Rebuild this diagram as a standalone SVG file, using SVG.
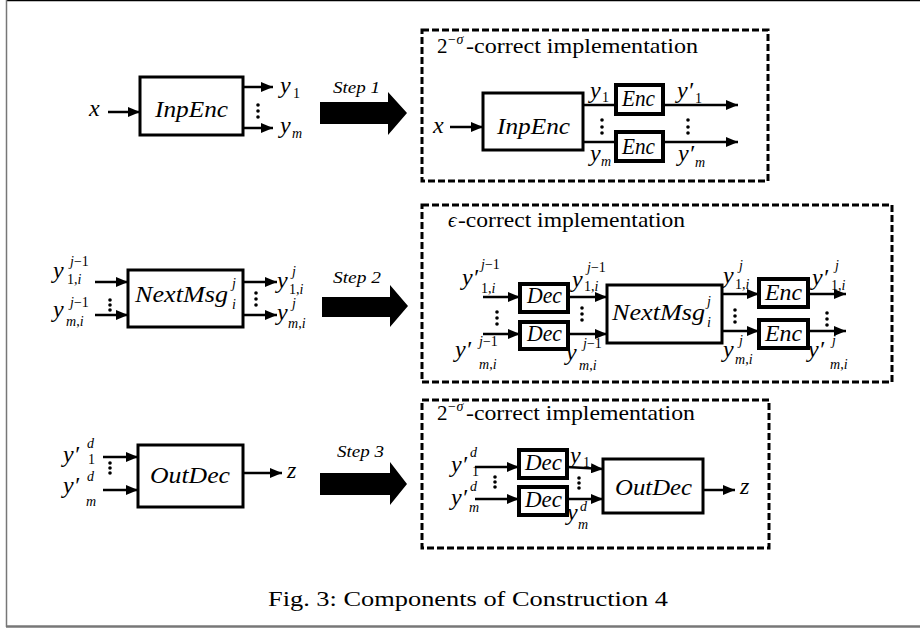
<svg xmlns="http://www.w3.org/2000/svg" width="920" height="629" viewBox="0 0 920 629">
<style>
.box{fill:#fff;stroke:#000;stroke-width:3}
.sbox{fill:#fff;stroke:#000;stroke-width:4}
.dash{fill:none;stroke:#000;stroke-width:3;stroke-dasharray:7 3}
.c{stroke:#000;stroke-width:2.5;fill:none;marker-end:url(#ah)}
text{font-family:"Liberation Serif","DejaVu Serif","Times New Roman",serif}
.v{font-style:italic;font-size:24px}
.sc{font-style:italic;font-size:14px}
.n{font-style:normal}
.ttl{font-size:21px}
.tsup{font-style:italic;font-size:14px}
.st{font-style:italic;font-size:16px}
.cap{font-size:22px}
.dot{fill:#000}
</style>
<defs>
<marker id="ah" markerUnits="userSpaceOnUse" markerWidth="12" markerHeight="10" refX="12" refY="5" orient="auto"><path d="M0,0 L12,5 L0,10 z" fill="#000"/></marker>
</defs>
<rect width="920" height="629" fill="#fff"/>
<g id="frame">
<line x1="6" y1="0.5" x2="920" y2="0.5" stroke="#000" stroke-width="1.5"/>
<line x1="6.5" y1="0" x2="6.5" y2="627" stroke="#777" stroke-width="1.5"/>
<line x1="6" y1="626.5" x2="920" y2="626.5" stroke="#777" stroke-width="2.5"/>
</g>

<g id="region1"><rect class="dash" x="422" y="30" width="346" height="151"/>
<text class="ttl" x="437" y="53">2</text><text class="tsup" x="447" y="44">−σ</text><text class="ttl" x="466" y="53" textLength="232" lengthAdjust="spacingAndGlyphs">-correct implementation</text></g>
<g id="region2"><rect class="dash" x="422" y="205" width="470" height="177"/>
<text class="ttl" x="448" y="227" font-style="italic">ϵ</text><text class="ttl" x="458" y="227" textLength="227" lengthAdjust="spacingAndGlyphs">-correct implementation</text></g>
<g id="region3"><rect class="dash" x="422" y="400" width="347" height="148"/>
<text class="ttl" x="437" y="420">2</text><text class="tsup" x="447" y="411">−σ</text><text class="ttl" x="466" y="420" textLength="229" lengthAdjust="spacingAndGlyphs">-correct implementation</text></g>

<g id="connectors">
<line class="c" x1="108" y1="112" x2="140" y2="112"/>
<line class="c" x1="243" y1="87" x2="273" y2="87"/>
<line class="c" x1="243" y1="128" x2="273" y2="128"/>
<line class="c" x1="450" y1="127" x2="483" y2="127"/>
<line stroke="#000" stroke-width="2.5" x1="583" y1="105" x2="616" y2="105"/>
<line stroke="#000" stroke-width="2.5" x1="583" y1="142" x2="616" y2="142"/>
<line class="c" x1="663" y1="105" x2="738" y2="105"/>
<line class="c" x1="663" y1="142" x2="738" y2="142"/>
<line class="c" x1="95" y1="282" x2="128" y2="282"/>
<line class="c" x1="95" y1="315" x2="128" y2="315"/>
<line class="c" x1="243" y1="282" x2="277" y2="282"/>
<line class="c" x1="243" y1="315" x2="277" y2="315"/>
<line class="c" x1="483" y1="297" x2="520" y2="297"/>
<line class="c" x1="483" y1="334" x2="520" y2="334"/>
<line class="c" x1="568" y1="297" x2="607" y2="297"/>
<line class="c" x1="568" y1="334" x2="607" y2="334"/>
<line class="c" x1="722" y1="294" x2="759" y2="294"/>
<line class="c" x1="722" y1="331" x2="759" y2="331"/>
<line class="c" x1="808" y1="294" x2="846" y2="294"/>
<line class="c" x1="808" y1="331" x2="846" y2="331"/>
<line class="c" x1="103" y1="457" x2="138" y2="457"/>
<line class="c" x1="103" y1="490" x2="138" y2="490"/>
<line class="c" x1="243" y1="473" x2="282" y2="473"/>
<line class="c" x1="475" y1="467" x2="519" y2="467"/>
<line class="c" x1="475" y1="499" x2="519" y2="499"/>
<line class="c" x1="567" y1="467" x2="603" y2="469"/>
<line class="c" x1="567" y1="499" x2="603" y2="499"/>
<line class="c" x1="703" y1="490" x2="735" y2="490"/>
</g>

<g id="n-inpenc">
<rect class="box" x="140" y="77" width="103" height="58"/>
<text class="v" x="155" y="117" textLength="73" lengthAdjust="spacingAndGlyphs">InpEnc</text>
</g>
<g id="lbl-r1-left">
<text class="v" x="89" y="116">x</text>
<text class="v" x="280" y="93">y</text><text class="sc n" x="293" y="98">1</text>
<text class="v" x="280" y="133">y</text><text class="sc" x="292" y="138">m</text>
<circle class="dot" cx="258" cy="105" r="1.8"/><circle class="dot" cx="258" cy="111" r="1.8"/><circle class="dot" cx="258" cy="117" r="1.8"/>
</g>
<g id="step1">
<text class="st" x="333" y="93" textLength="47" lengthAdjust="spacingAndGlyphs">Step 1</text>
<polygon points="320,102 388,102 388,92 407,113 388,135 388,124 320,124" fill="#000"/>
</g>

<g id="n-inpenc2">
<rect class="box" x="483" y="93" width="100" height="57"/>
<text class="v" x="497" y="134" textLength="73" lengthAdjust="spacingAndGlyphs">InpEnc</text>
</g>
<g id="n-enc1"><rect class="sbox" x="616" y="85" width="47" height="29"/><text class="v" x="622" y="106" font-size="21" textLength="33" lengthAdjust="spacingAndGlyphs">Enc</text></g>
<g id="n-enc2"><rect class="sbox" x="616" y="132" width="47" height="29"/><text class="v" x="622" y="154" font-size="21" textLength="33" lengthAdjust="spacingAndGlyphs">Enc</text></g>
<g id="lbl-r1-right">
<text class="v" x="433" y="133">x</text>
<text class="v" x="590" y="98">y</text><text class="sc n" x="602" y="102">1</text>
<text class="v" x="590" y="161">y</text><text class="sc" x="601" y="166">m</text>
<text class="v" x="677" y="98">y′</text><text class="sc n" x="695" y="103">1</text>
<text class="v" x="678" y="161">y′</text><text class="sc" x="695" y="167">m</text>
<circle class="dot" cx="602" cy="120" r="1.8"/><circle class="dot" cx="602" cy="127" r="1.8"/><circle class="dot" cx="602" cy="133" r="1.8"/>
<circle class="dot" cx="688" cy="120" r="1.8"/><circle class="dot" cx="688" cy="127" r="1.8"/><circle class="dot" cx="688" cy="133" r="1.8"/>
</g>

<g id="n-nextmsg">
<rect class="box" x="128" y="270" width="115" height="57"/>
<text class="v" x="135" y="302" textLength="93" lengthAdjust="spacingAndGlyphs">NextMsg</text><text class="sc" x="232" y="288">j</text><text class="sc" x="232" y="309">i</text>
</g>
<g id="lbl-r2-left">
<text class="v" x="53" y="278">y</text><text class="sc" x="70" y="266">j<tspan class="n">−1</tspan></text><text class="sc" x="67" y="284"><tspan class="n">1,</tspan>i</text>
<text class="v" x="53" y="317">y</text><text class="sc" x="70" y="307">j<tspan class="n">−1</tspan></text><text class="sc" x="66" y="326">m<tspan class="n">,</tspan>i</text>
<circle class="dot" cx="110" cy="300" r="1.8"/><circle class="dot" cx="110" cy="305" r="1.8"/><circle class="dot" cx="110" cy="310" r="1.8"/>
<circle class="dot" cx="256" cy="293" r="1.8"/><circle class="dot" cx="256" cy="299" r="1.8"/><circle class="dot" cx="256" cy="305" r="1.8"/>
<text class="v" x="277" y="288">y</text><text class="sc" x="292" y="276">j</text><text class="sc" x="289" y="294"><tspan class="n">1,</tspan>i</text>
<text class="v" x="277" y="320">y</text><text class="sc" x="292" y="308">j</text><text class="sc" x="288" y="328">m<tspan class="n">,</tspan>i</text>
</g>
<g id="step2">
<text class="st" x="333" y="283" textLength="48" lengthAdjust="spacingAndGlyphs">Step 2</text>
<polygon points="322,297 390,297 390,285 408,306 390,327 390,317 322,317" fill="#000"/>
</g>

<g id="n-dec1"><rect class="sbox" x="520" y="284" width="48" height="28"/><text class="v" x="527" y="303" font-size="21" textLength="35" lengthAdjust="spacingAndGlyphs">Dec</text></g>
<g id="n-dec2"><rect class="sbox" x="520" y="322" width="48" height="27"/><text class="v" x="527" y="341" font-size="21" textLength="35" lengthAdjust="spacingAndGlyphs">Dec</text></g>
<g id="n-nextmsg2">
<rect class="box" x="607" y="285" width="115" height="58"/>
<text class="v" x="612" y="320" textLength="93" lengthAdjust="spacingAndGlyphs">NextMsg</text><text class="sc" x="707" y="306">j</text><text class="sc" x="707" y="327">i</text>
</g>
<g id="n-enc3"><rect class="sbox" x="759" y="279" width="49" height="28"/><text class="v" x="765" y="300" font-size="21" textLength="37" lengthAdjust="spacingAndGlyphs">Enc</text></g>
<g id="n-enc4"><rect class="sbox" x="759" y="320" width="49" height="28"/><text class="v" x="765" y="341" font-size="21" textLength="37" lengthAdjust="spacingAndGlyphs">Enc</text></g>
<g id="lbl-r2-right">
<text class="v" x="462" y="285">y′</text><text class="sc" x="481" y="269">j<tspan class="n">−1</tspan></text><text class="sc" x="481" y="293"><tspan class="n">1,</tspan>i</text>
<text class="v" x="455" y="357">y′</text><text class="sc" x="479" y="346">j<tspan class="n">−1</tspan></text><text class="sc" x="479" y="369">m<tspan class="n">,</tspan>i</text>
<circle class="dot" cx="497" cy="312" r="1.8"/><circle class="dot" cx="497" cy="318" r="1.8"/><circle class="dot" cx="497" cy="324" r="1.8"/>
<text class="v" x="572" y="287">y</text><text class="sc" x="587" y="272">j<tspan class="n">−1</tspan></text><text class="sc" x="584" y="291"><tspan class="n">1,</tspan>i</text>
<text class="v" x="566" y="360">y</text><text class="sc" x="583" y="348">j<tspan class="n">−1</tspan></text><text class="sc" x="579" y="370">m<tspan class="n">,</tspan>i</text>
<circle class="dot" cx="582" cy="308" r="1.8"/><circle class="dot" cx="582" cy="314" r="1.8"/><circle class="dot" cx="582" cy="320" r="1.8"/>
<text class="v" x="723" y="283">y</text><text class="sc" x="739" y="270">j</text><text class="sc" x="735" y="289"><tspan class="n">1,</tspan>i</text>
<text class="v" x="723" y="357">y</text><text class="sc" x="739" y="345">j</text><text class="sc" x="735" y="364">m<tspan class="n">,</tspan>i</text>
<circle class="dot" cx="735" cy="310" r="1.8"/><circle class="dot" cx="735" cy="316" r="1.8"/><circle class="dot" cx="735" cy="322" r="1.8"/>
<text class="v" x="812" y="285">y′</text><text class="sc" x="835" y="270">j</text><text class="sc" x="831" y="290"><tspan class="n">1,</tspan>i</text>
<text class="v" x="808" y="357">y′</text><text class="sc" x="832" y="345">j</text><text class="sc" x="830" y="369">m<tspan class="n">,</tspan>i</text>
<circle class="dot" cx="827" cy="313" r="1.8"/><circle class="dot" cx="827" cy="319" r="1.8"/><circle class="dot" cx="827" cy="325" r="1.8"/>
</g>

<g id="n-outdec">
<rect class="box" x="138" y="445" width="105" height="62"/>
<text class="v" x="150" y="483" textLength="80" lengthAdjust="spacingAndGlyphs">OutDec</text>
</g>
<g id="lbl-r3-left">
<text class="v" x="63" y="462">y′</text><text class="sc" x="87" y="448">d</text><text class="sc n" x="88" y="464">1</text>
<text class="v" x="63" y="493">y′</text><text class="sc" x="87" y="481">d</text><text class="sc" x="86" y="506">m</text>
<circle class="dot" cx="110" cy="463" r="1.8"/><circle class="dot" cx="110" cy="468" r="1.8"/><circle class="dot" cx="110" cy="473" r="1.8"/>
<text class="v" x="287" y="478">z</text>
</g>
<g id="step3">
<text class="st" x="337" y="457" textLength="47" lengthAdjust="spacingAndGlyphs">Step 3</text>
<polygon points="320,473 390,473 390,462 407,484 390,505 390,495 320,495" fill="#000"/>
</g>

<g id="n-dec3"><rect class="sbox" x="519" y="450" width="48" height="28"/><text class="v" x="525" y="470" font-size="21" textLength="37" lengthAdjust="spacingAndGlyphs">Dec</text></g>
<g id="n-dec4"><rect class="sbox" x="519" y="487" width="48" height="28"/><text class="v" x="525" y="507" font-size="21" textLength="37" lengthAdjust="spacingAndGlyphs">Dec</text></g>
<g id="n-outdec2">
<rect class="box" x="603" y="459" width="100" height="54"/>
<text class="v" x="615" y="495" textLength="77" lengthAdjust="spacingAndGlyphs">OutDec</text>
</g>
<g id="lbl-r3-right">
<text class="v" x="451" y="472">y′</text><text class="sc" x="470" y="457">d</text><text class="sc n" x="472" y="476">1</text>
<text class="v" x="451" y="505">y′</text><text class="sc" x="470" y="491">d</text><text class="sc" x="469" y="512">m</text>
<circle class="dot" cx="495" cy="477" r="1.8"/><circle class="dot" cx="495" cy="482" r="1.8"/><circle class="dot" cx="495" cy="487" r="1.8"/>
<text class="v" x="570" y="463">y</text><text class="sc n" x="583" y="467">1</text>
<text class="v" x="567" y="520">y</text><text class="sc" x="580" y="511">d</text><text class="sc" x="578" y="529">m</text>
<circle class="dot" cx="579" cy="478" r="1.8"/><circle class="dot" cx="579" cy="483" r="1.8"/><circle class="dot" cx="579" cy="488" r="1.8"/>
<text class="v" x="740" y="494">z</text>
</g>

<g id="caption"><text class="cap" x="268" y="606" textLength="400" lengthAdjust="spacingAndGlyphs">Fig. 3: Components of Construction 4</text></g>
</svg>
